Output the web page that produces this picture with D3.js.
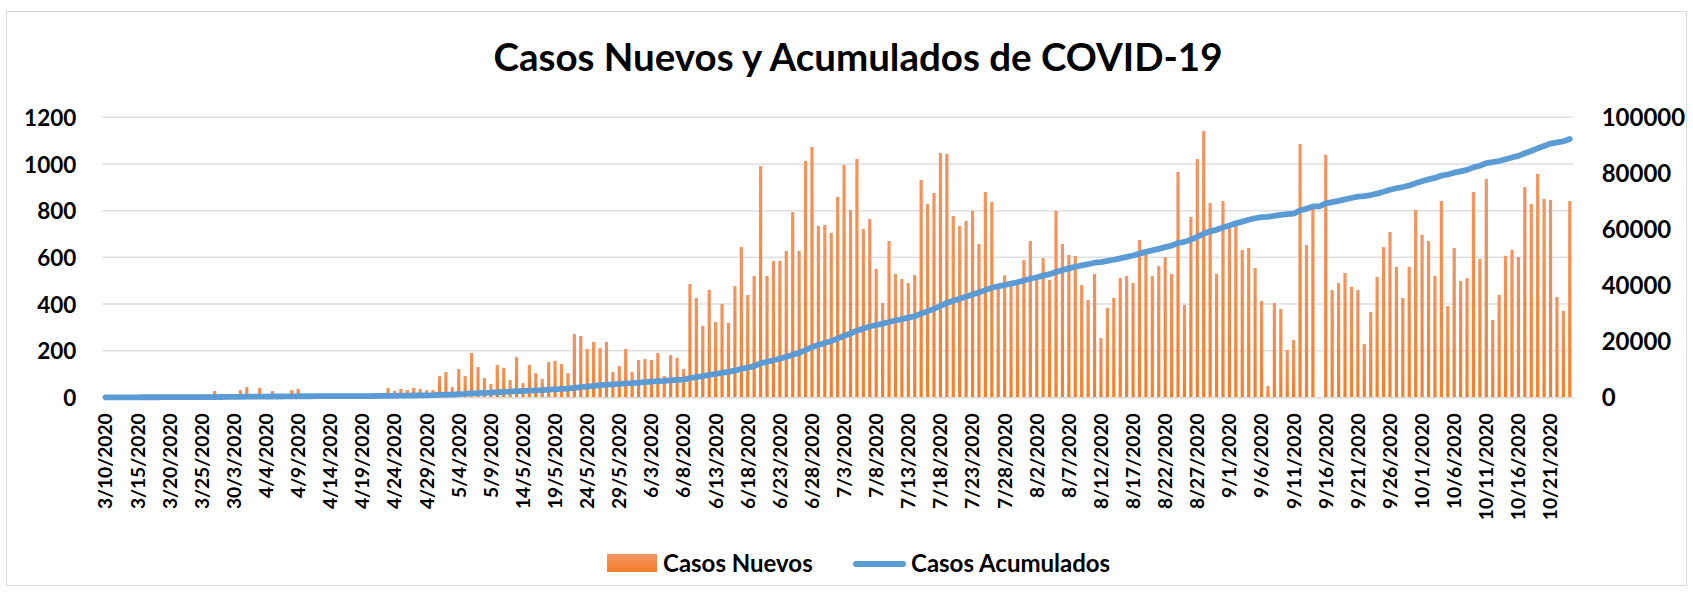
<!DOCTYPE html>
<html><head><meta charset="utf-8">
<script src="https://cdn.jsdelivr.net/npm/d3@7"></script>
<style>
body{margin:0;background:#fff;}
svg{display:block;}
text{font-family:Lato, "Open Sans", sans-serif;font-weight:700;fill:#000;}
</style>
</head><body>
<svg id="chart" width="1693" height="592"></svg>
<script>
const title = "Casos Nuevos y Acumulados de COVID-19";
const seriesNames = ["Casos Nuevos", "Casos Acumulados"];
const tickLabels = ["3/10/2020","3/15/2020","3/20/2020","3/25/2020","30/3/2020","4/4/2020","4/9/2020","4/14/2020","4/19/2020","4/24/2020","4/29/2020","5/4/2020","5/9/2020","14/5/2020","19/5/2020","24/5/2020","29/5/2020","6/3/2020","6/8/2020","6/13/2020","6/18/2020","6/23/2020","6/28/2020","7/3/2020","7/8/2020","7/13/2020","7/18/2020","7/23/2020","7/28/2020","8/2/2020","8/7/2020","8/12/2020","8/17/2020","8/22/2020","8/27/2020","9/1/2020","9/6/2020","9/11/2020","9/16/2020","9/21/2020","9/26/2020","10/1/2020","10/6/2020","10/11/2020","10/16/2020","10/21/2020"];
const leftTicks = [0, 200, 400, 600, 800, 1000, 1200];
const rightTicks = [0, 20000, 40000, 60000, 80000, 100000];

// daily new cases, one per day from 3/10/2020 to 10/24/2020
const newCases = [
2,0,0,3,3,0,6,7,0,12, 4,0,0,5,2,14,12,27,14,14,
8,31,44,6,40,4,27,8,4,31, 36,12,8,5,14,3,10,6,13,2,
9,4,14,10,40,27,36,31,40,36, 31,31,91,109,44,121,91,190,130,83,
57,139,126,74,173,61,139,104,79,151, 156,143,104,271,263,207,237,211,237,109,
134,207,109,160,164,160,190,91,181,169, 121,486,426,306,460,323,400,319,477,644,
439,520,991,520,584,584,627,794,627,1013, 1073,734,739,704,859,996,803,1021,721,764,
550,404,670,529,507,490,524,931,829,876, 1047,1043,777,734,756,799,657,880,837,470,
523,485,490,589,670,510,597,503,799,657, 610,606,481,417,529,254,383,426,511,520,
490,674,614,520,563,601,529,966,396,773, 1021,1141,833,529,841,734,739,631,640,554,
413,49,404,379,203,246,1086,653,811,0, 1039,460,490,533,473,460,229,366,516,644,
709,559,426,559,803,696,670,520,841,391, 640,499,511,880,593,936,331,439,606,631,
601,901,829,957,850,846,430,370,841
];

// cumulative cases
const cumCases = [
2,2,2,5,8,8,14,21,21,33, 37,37,37,42,44,58,70,97,111,125,
133,164,208,214,254,258,285,293,297,328, 364,376,384,389,403,406,416,422,435,437,
446,450,464,474,514,541,577,608,648,684, 715,746,837,946,990,1111,1202,1392,1522,1605,
1662,1801,1927,2001,2174,2235,2374,2478,2557,2708, 2864,3007,3111,3382,3645,3852,4089,4300,4537,4646,
4780,4987,5096,5256,5420,5580,5770,5861,6042,6211, 6332,6818,7244,7550,8010,8333,8733,9052,9529,10173,
10612,11132,12123,12643,13227,13811,14438,15232,15859,16872, 17945,18679,19418,20122,20981,21977,22780,23801,24522,25286,
25836,26240,26910,27439,27946,28436,28960,29891,30720,31596, 32643,33686,34463,35197,35953,36752,37409,38289,39126,39596,
40119,40604,41094,41683,42353,42863,43460,43963,44762,45419, 46029,46635,47116,47533,48062,48316,48699,49125,49636,50156,
50646,51320,51934,52454,53017,53618,54147,55113,55509,56282, 57303,58444,59277,59806,60647,61381,62120,62751,63391,63945,
64358,64407,64811,65190,65393,65639,66725,67378,68189,68189, 69228,69688,70178,70711,71184,71644,71873,72239,72755,73399,
74108,74667,75093,75652,76455,77151,77821,78341,79182,79573, 80213,80712,81223,82103,82696,83632,83963,84402,85008,85639,
86240,87141,87970,88927,89777,90623,91053,91423,92264
];

const svg = d3.select("#chart");
const M = {left: 102.3, right: 1573, top: 117.3, bottom: 397.3};

const defs = svg.append("defs");
const grad = defs.append("linearGradient").attr("id", "barGrad")
  .attr("x1", 0).attr("y1", 0).attr("x2", 0).attr("y2", 1);
grad.append("stop").attr("offset", "0%").attr("stop-color", "#F29560");
grad.append("stop").attr("offset", "100%").attr("stop-color", "#F77E2A");

// chart area border
svg.append("rect").attr("x", 6.5).attr("y", 11.5).attr("width", 1680).attr("height", 574)
  .attr("fill", "#fff").attr("stroke", "#D9D9D9").attr("stroke-width", 1);

const x = d3.scaleBand().domain(d3.range(newCases.length))
  .range([M.left, M.right]).paddingInner(0.5).paddingOuter(0.25);
const yL = d3.scaleLinear().domain([0, 1200]).range([M.bottom, M.top]);
const yR = d3.scaleLinear().domain([0, 100000]).range([M.bottom, M.top]);

// gridlines
svg.append("g").selectAll("line").data(leftTicks.slice(1)).join("line")
  .attr("x1", M.left).attr("x2", M.right)
  .attr("y1", d => yL(d)).attr("y2", d => yL(d))
  .attr("stroke", "#DDE0E5").attr("stroke-width", 1.5);

// left axis
const gL = svg.append("g").attr("transform", `translate(${M.left},0)`)
  .call(d3.axisLeft(yL).tickValues(leftTicks).tickSize(0).tickPadding(26).tickFormat(d3.format("d")));
gL.select(".domain").remove();
gL.selectAll("text").style("font-size", "22.5px").attr("dy", "0.36em")
  .style("font-family", "Lato").style("font-weight", 700).attr("fill", "#000");

// right axis
const gR = svg.append("g").attr("transform", `translate(${M.right},0)`)
  .call(d3.axisRight(yR).tickValues(rightTicks).tickSize(0).tickPadding(28.7).tickFormat(d3.format("d")));
gR.select(".domain").remove();
gR.selectAll("text").style("font-size", "24px").attr("dy", "0.36em")
  .style("font-family", "Lato").style("font-weight", 700).attr("fill", "#000");

// bars
svg.append("g").selectAll("rect").data(newCases).join("rect")
  .attr("x", (d, i) => x(i)).attr("width", x.bandwidth())
  .attr("y", d => yL(d)).attr("height", d => yL(0) - yL(d))
  .attr("fill", "url(#barGrad)");

// category axis
const tickIdx = tickLabels.map((t, k) => k * 5);
const gX = svg.append("g").attr("transform", `translate(0,${M.bottom})`)
  .call(d3.axisBottom(x).tickValues(tickIdx).tickSize(0).tickSizeOuter(0)
    .tickFormat((d, k) => tickLabels[k]));
gX.select(".domain").attr("stroke", "#D9D9D9").attr("stroke-width", 1.5);
gX.selectAll("text")
  .attr("transform", "rotate(-90)")
  .attr("x", -16).attr("y", 0).attr("dy", "0.36em")
  .attr("text-anchor", "end")
  .style("font-size", "19.2px").style("font-family", "Lato").style("font-weight", 700).attr("fill", "#000");

// cumulative line
const line = d3.line().x((d, i) => x(i) + x.bandwidth() / 2).y(d => yR(d));
svg.append("path").datum(cumCases).attr("d", line)
  .attr("fill", "none").attr("stroke", "#5B9BD5").attr("stroke-width", 5.8)
  .attr("stroke-linecap", "round").attr("stroke-linejoin", "round");

// title
svg.append("text").attr("x", 858).attr("y", 71).attr("text-anchor", "middle")
  .style("font-size", "38.5px").text(title);

// legend
const lg = svg.append("g");
lg.append("rect").attr("x", 607).attr("y", 554).attr("width", 50).attr("height", 18).attr("fill", "url(#barGrad)");
lg.append("text").attr("x", 663).attr("y", 572).style("font-size", "24px").text(seriesNames[0]);
lg.append("line").attr("x1", 856).attr("x2", 903).attr("y1", 564).attr("y2", 564)
  .attr("stroke", "#5B9BD5").attr("stroke-width", 6).attr("stroke-linecap", "round");
lg.append("text").attr("x", 911).attr("y", 572).style("font-size", "24px").text(seriesNames[1]);
</script>
</body></html>
